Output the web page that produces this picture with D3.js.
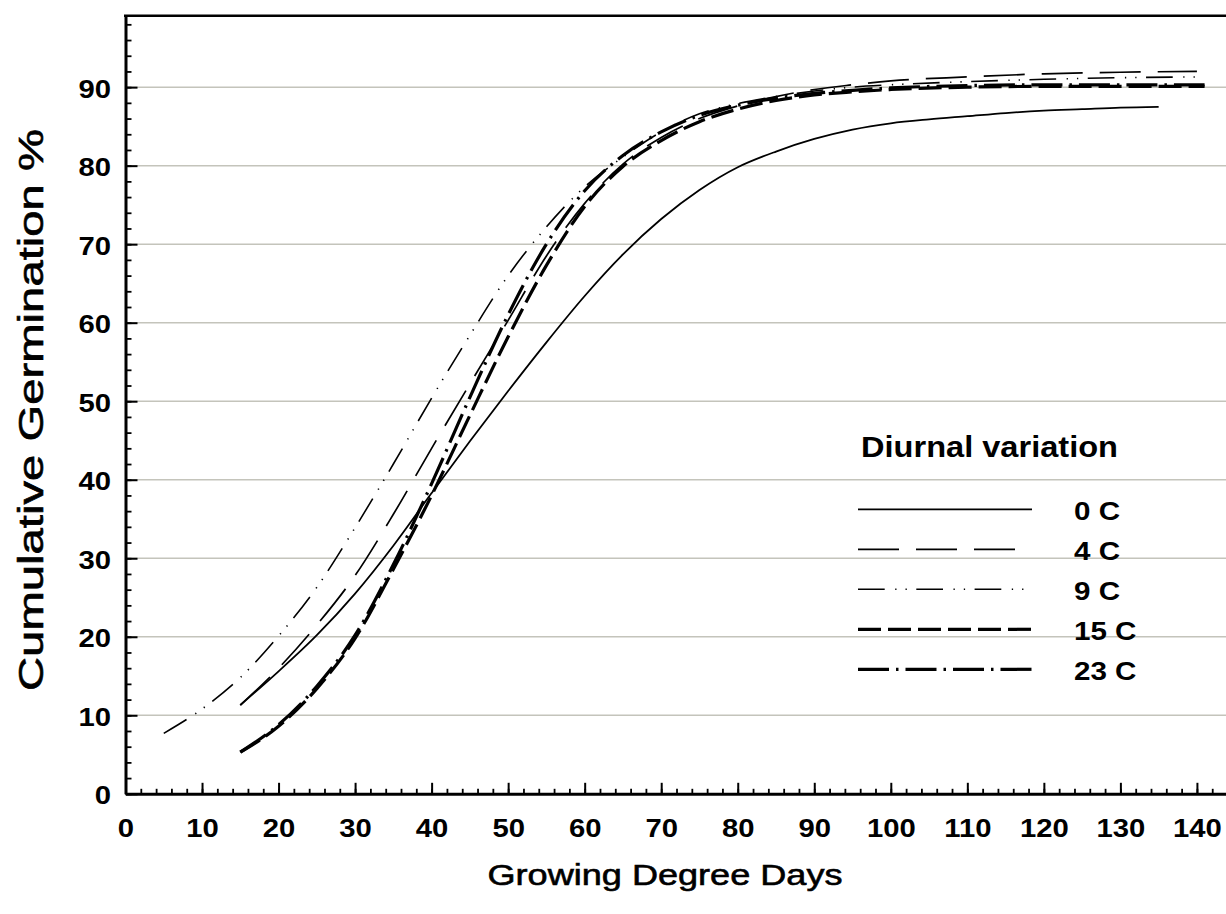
<!DOCTYPE html>
<html><head><meta charset="utf-8">
<script src="https://cdn.jsdelivr.net/npm/d3@7"></script>
<style>
body{margin:0;background:#fff}
svg{display:block;background:#fff}
text{font-family:"Liberation Sans",Arial,sans-serif;fill:#000}
</style>
</head><body>
<svg id="chart" width="1226" height="914"></svg>
<script>
// ---------------- data ----------------
const seriesNames = ["0 C", "4 C", "9 C", "15 C", "23 C"];

const gdd_0C  = [15,20,25,30,35,40,45,50,55,60,65,70,75,80,85,90,95,100,105,110,115,120,125,130,135];
const germ_0C = [11.3,15.6,20.2,25.5,31.6,38.3,44.9,51.3,57.5,63.4,68.7,73.2,76.9,79.8,81.8,83.4,84.6,85.4,85.9,86.3,86.7,87.0,87.2,87.4,87.5];

const gdd_4C  = [15,20,25,30,35,40,45,50,55,60,65,70,75,80,85,90,95,100,110,120,130,140];
const germ_4C = [11.3,16.0,21.5,27.8,35.6,44.0,52.2,60.3,68.5,75.2,80.2,83.6,86.0,87.6,88.8,89.7,90.3,90.8,91.3,91.7,91.9,92.0];

const gdd_9C  = [5,10,15,20,25,30,35,40,45,50,55,60,65,70,75,80,85,90,95,100,110,120,130,140];
const germ_9C = [7.7,10.8,14.8,20.1,26.3,33.9,42.0,50.4,58.4,66.0,72.2,77.3,81.1,84.3,86.6,87.9,88.8,89.5,90.0,90.3,90.7,91.0,91.2,91.3];

const gdd_15C  = [15,20,25,30,35,40,45,50,55,60,65,70,75,80,85,90,95,100,110,120,130,141];
const germ_15C = [5.3,8.6,13.4,19.8,28.6,38.0,48.2,58.2,67.3,74.8,79.9,83.2,85.6,87.2,88.3,89.0,89.4,89.7,90.0,90.1,90.1,90.1];

const gdd_23C  = [15,20,25,30,35,40,45,50,55,60,65,70,75,80,85,90,95,100,110,120,130,141];
const germ_23C = [5.3,8.8,13.7,20.2,29.2,39.5,50.5,61.0,70.0,76.8,81.3,84.3,86.4,87.7,88.6,89.2,89.6,89.9,90.2,90.3,90.3,90.3];

const xTickValues = [0,10,20,30,40,50,60,70,80,90,100,110,120,130,140];
const yTickValues = [0,10,20,30,40,50,60,70,80,90];
const gridValues  = [10,20,30,40,50,60,70,80,90];
const xTitle = "Growing Degree Days";
const yTitle = "Cumulative Germination %";
const legendTitle = "Diurnal variation";

// ---------------- build ----------------
const series = [
  {name: seriesNames[0], xs: gdd_0C,  ys: germ_0C,  w: 1.8, dash: null},
  {name: seriesNames[1], xs: gdd_4C,  ys: germ_4C,  w: 1.7, dash: "41,17"},
  {name: seriesNames[2], xs: gdd_9C,  ys: germ_9C,  w: 1.6, dash: "26.7,10.5,1.3,9,1.3,9.5"},
  {name: seriesNames[3], xs: gdd_15C, ys: germ_15C, w: 3.2, dash: "23,7"},
  {name: seriesNames[4], xs: gdd_23C, ys: germ_23C, w: 3.2, dash: "31,7,2.5,7"}
];

const svg = d3.select("#chart");
const xMax = 143.8, yMax = 99.1;
const x = d3.scaleLinear().domain([0, xMax]).range([125.5, 1226]);
const y = d3.scaleLinear().domain([0, yMax]).range([793.8, 15.7]);

// gridlines
svg.append("g").selectAll("line").data(gridValues).join("line")
  .attr("x1", x(0)).attr("x2", x(xMax))
  .attr("y1", d => y(d)).attr("y2", d => y(d))
  .attr("stroke", "#c4c4bb").attr("stroke-width", 1.5);

// curves
const line = d3.line().x(d => x(d[0])).y(d => y(d[1])).curve(d3.curveMonotoneX);
svg.append("g").selectAll("path").data(series).join("path")
  .attr("d", s => line(s.xs.map((v, i) => [v, s.ys[i]])))
  .attr("fill", "none").attr("stroke", "#000")
  .attr("stroke-width", s => s.w)
  .attr("stroke-dasharray", s => s.dash)
  .attr("stroke-linecap", "butt");

// axes: minor ticks
const xMinor = d3.axisBottom(x).tickValues(d3.range(0, 143, 2)).tickSizeInner(-5).tickSizeOuter(0).tickFormat("");
const gxm = svg.append("g").attr("transform", `translate(0,${y(0)})`).call(xMinor);
gxm.select(".domain").remove();
gxm.selectAll("line").attr("stroke-width", 1.8);

const yMinor = d3.axisLeft(y).tickValues(d3.range(0, 99, 2)).tickSizeInner(-6).tickSizeOuter(0).tickFormat("");
const gym = svg.append("g").attr("transform", `translate(${x(0)},0)`).call(yMinor);
gym.select(".domain").remove();
gym.selectAll("line").attr("stroke-width", 1.8);

// major axes
const xMajor = d3.axisBottom(x).tickValues(xTickValues).tickSizeInner(-11).tickSizeOuter(0).tickFormat(d3.format("d"));
const gx = svg.append("g").attr("transform", `translate(0,${y(0)})`).call(xMajor);
gx.select(".domain").attr("stroke-width", 3);
gx.selectAll(".tick line").attr("stroke-width", 2);
gx.selectAll(".tick text")
  .attr("y", null).attr("dy", null).attr("x", null)
  .attr("transform", "translate(0,43) scale(1.17,1)")
  .attr("text-anchor", "middle")
  .style("font-size", "25px").style("font-weight", "bold");

const yMajor = d3.axisLeft(y).tickValues(yTickValues).tickSizeInner(-12).tickSizeOuter(0).tickFormat(d3.format("d"));
const gy = svg.append("g").attr("transform", `translate(${x(0)},0)`).call(yMajor);
gy.select(".domain").attr("stroke-width", 3);
gy.selectAll(".tick line").attr("stroke-width", 2);
gy.selectAll(".tick text")
  .attr("y", null).attr("dy", null).attr("x", null)
  .attr("transform", "translate(-14.5,10) scale(1.17,1)")
  .attr("text-anchor", "end")
  .style("font-size", "25px").style("font-weight", "bold");

// top border
svg.append("line")
  .attr("x1", x(0) - 1.5).attr("x2", x(xMax))
  .attr("y1", y(yMax)).attr("y2", y(yMax))
  .attr("stroke", "#000").attr("stroke-width", 2.5);

// titles
svg.append("text").text(xTitle)
  .attr("x", 665).attr("y", 885)
  .attr("text-anchor", "middle")
  .attr("textLength", 355).attr("lengthAdjust", "spacingAndGlyphs")
  .attr("stroke", "#000").attr("stroke-width", 0.6)
  .style("font-size", "30px");

svg.append("text").text(yTitle)
  .attr("transform", "translate(43,410) rotate(-90)")
  .attr("text-anchor", "middle")
  .attr("textLength", 562).attr("lengthAdjust", "spacingAndGlyphs")
  .attr("stroke", "#000").attr("stroke-width", 0.6)
  .style("font-size", "35px");

// legend
const legendX0 = 858, legendX1 = 1032, legendY0 = 509.3, legendDy = 40;
svg.append("text").text(legendTitle)
  .attr("x", 861).attr("y", 456.5)
  .attr("textLength", 257).attr("lengthAdjust", "spacingAndGlyphs")
  .style("font-size", "29px").style("font-weight", "bold");

const lg = svg.append("g").selectAll("g").data(series).join("g")
  .attr("transform", (s, i) => `translate(0,${legendY0 + i * legendDy})`);
lg.append("line")
  .attr("x1", legendX0).attr("x2", legendX1).attr("y1", 0).attr("y2", 0)
  .attr("stroke", "#000")
  .attr("stroke-width", s => s.w)
  .attr("stroke-dasharray", s => s.dash);
lg.append("text").text(s => s.name)
  .attr("transform", "translate(1074,10.5) scale(1.16,1)")
  .style("font-size", "25.5px").style("font-weight", "bold");
</script>
</body></html>
